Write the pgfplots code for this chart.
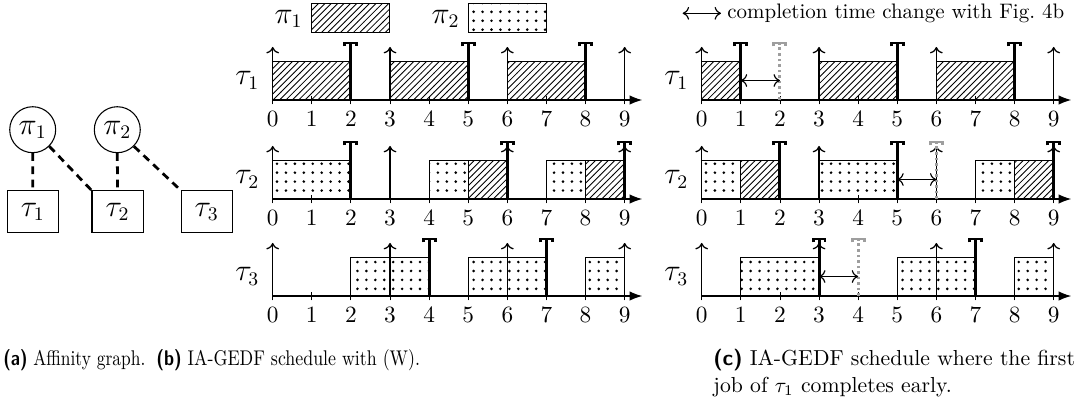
\documentclass[border=0pt]{standalone}
\usepackage{pgfplots}
\pgfplotsset{compat=1.18}
\usetikzlibrary{arrows.meta,patterns,patterns.meta}
\definecolor{oldgray}{gray}{0.62}
\newcommand{\lab}{\fontsize{13.5}{15}\selectfont}

\pgfplotsset{
  sched/.style={
    x=18.38pt, y=18.33pt,
    xmin=0, xmax=9.45, ymin=0, ymax=1.5,
    anchor=south west,
    axis x line=bottom,
    axis y line=none,
    x axis line style={line width=0.6pt,-{Latex[length=6pt,width=4.5pt]}},
    xtick={0,...,9},
    ytick=\empty,
    xtick align=center,
    major tick length=4pt,
    every tick/.style={black, line width=0.4pt},
    tick label style={font=\fontsize{11}{13}\selectfont},
    clip=false,
  },
  hbar/.style={draw=black, line width=0.45pt, pattern=north east lines},
  dbar/.style={draw=black, line width=0.45pt, pattern={Dots[distance=4.2pt,radius=0.68pt]}},
  rel/.style={line width=0.6pt, -{To[length=3pt,width=6pt]}},
  comp/.style={line width=1.4pt, -{Bracket[width=7pt,length=1.6pt]}},
  oldcomp/.style={oldgray, line width=1.4pt, dash pattern=on 1.3pt off 1.3pt, -{Bracket[width=7pt,length=1.6pt]}},
  chg/.style={line width=0.55pt, {To[length=3pt,width=6pt]}-{To[length=3pt,width=6pt]}},
}

\begin{document}
\begin{tikzpicture}
\useasboundingbox[x=0.47pt,y=-0.47pt] (0,0) rectangle (1086,405);

% ---------------- panel (b) ----------------
% tau_1
\begin{axis}[sched, at={(272.7*0.47pt,-100*0.47pt)}]
\addplot[hbar] coordinates {(0,0)(0,1)(2,1)(2,0)} --cycle;
\addplot[hbar] coordinates {(3,0)(3,1)(5,1)(5,0)} --cycle;
\addplot[hbar] coordinates {(6,0)(6,1)(8,1)(8,0)} --cycle;
\addplot[rel] coordinates {(0,0)(0,1.36)};
\addplot[rel] coordinates {(3,0)(3,1.36)};
\addplot[rel] coordinates {(6,0)(6,1.36)};
\addplot[rel] coordinates {(9,0)(9,1.36)};
\addplot[comp] coordinates {(2,0)(2,1.5)};
\addplot[comp] coordinates {(5,0)(5,1.5)};
\addplot[comp] coordinates {(8,0)(8,1.5)};
\node[anchor=east, font=\lab, inner sep=0pt] at (axis cs:-0.33,0.5) {$\tau_1$};
\end{axis}
% tau_2
\begin{axis}[sched, at={(272.7*0.47pt,-199*0.47pt)}]
\addplot[dbar] coordinates {(0,0)(0,1)(2,1)(2,0)} --cycle;
\addplot[dbar] coordinates {(4,0)(4,1)(5,1)(5,0)} --cycle;
\addplot[hbar] coordinates {(5,0)(5,1)(6,1)(6,0)} --cycle;
\addplot[dbar] coordinates {(7,0)(7,1)(8,1)(8,0)} --cycle;
\addplot[hbar] coordinates {(8,0)(8,1)(9,1)(9,0)} --cycle;
\addplot[rel] coordinates {(0,0)(0,1.36)};
\addplot[rel] coordinates {(3,0)(3,1.36)};
\addplot[rel] coordinates {(6,0)(6,1.36)};
\addplot[rel] coordinates {(9,0)(9,1.36)};
\addplot[comp] coordinates {(2,0)(2,1.5)};
\addplot[comp] coordinates {(6,0)(6,1.5)};
\addplot[comp] coordinates {(9,0)(9,1.5)};
\node[anchor=east, font=\lab, inner sep=0pt] at (axis cs:-0.33,0.5) {$\tau_2$};
\end{axis}
% tau_3
\begin{axis}[sched, at={(272.7*0.47pt,-296*0.47pt)}]
\addplot[dbar] coordinates {(2,0)(2,1)(4,1)(4,0)} --cycle;
\addplot[dbar] coordinates {(5,0)(5,1)(7,1)(7,0)} --cycle;
\addplot[dbar] coordinates {(8,0)(8,1)(9,1)(9,0)} --cycle;
\addplot[rel] coordinates {(0,0)(0,1.36)};
\addplot[rel] coordinates {(3,0)(3,1.36)};
\addplot[rel] coordinates {(6,0)(6,1.36)};
\addplot[rel] coordinates {(9,0)(9,1.36)};
\addplot[comp] coordinates {(4,0)(4,1.5)};
\addplot[comp] coordinates {(7,0)(7,1.5)};
\node[anchor=east, font=\lab, inner sep=0pt] at (axis cs:-0.33,0.5) {$\tau_3$};
\end{axis}

% ---------------- panel (c) ----------------
% tau_1
\begin{axis}[sched, at={(701.7*0.47pt,-100*0.47pt)}]
\addplot[hbar] coordinates {(0,0)(0,1)(1,1)(1,0)} --cycle;
\addplot[hbar] coordinates {(3,0)(3,1)(5,1)(5,0)} --cycle;
\addplot[hbar] coordinates {(6,0)(6,1)(8,1)(8,0)} --cycle;
\addplot[rel] coordinates {(0,0)(0,1.36)};
\addplot[rel] coordinates {(3,0)(3,1.36)};
\addplot[rel] coordinates {(6,0)(6,1.36)};
\addplot[rel] coordinates {(9,0)(9,1.36)};
\addplot[oldcomp] coordinates {(2,0)(2,1.5)};
\addplot[comp] coordinates {(1,0)(1,1.5)};
\addplot[comp] coordinates {(5,0)(5,1.5)};
\addplot[comp] coordinates {(8,0)(8,1.5)};
\addplot[chg] coordinates {(1,0.5)(2,0.5)};
\node[anchor=east, font=\lab, inner sep=0pt] at (axis cs:-0.33,0.5) {$\tau_1$};
\end{axis}
% tau_2
\begin{axis}[sched, at={(701.7*0.47pt,-199*0.47pt)}]
\addplot[dbar] coordinates {(0,0)(0,1)(1,1)(1,0)} --cycle;
\addplot[hbar] coordinates {(1,0)(1,1)(2,1)(2,0)} --cycle;
\addplot[dbar] coordinates {(3,0)(3,1)(5,1)(5,0)} --cycle;
\addplot[dbar] coordinates {(7,0)(7,1)(8,1)(8,0)} --cycle;
\addplot[hbar] coordinates {(8,0)(8,1)(9,1)(9,0)} --cycle;
\addplot[rel] coordinates {(0,0)(0,1.36)};
\addplot[rel] coordinates {(3,0)(3,1.36)};
\addplot[rel] coordinates {(6,0)(6,1.36)};
\addplot[rel] coordinates {(9,0)(9,1.36)};
\addplot[oldcomp] coordinates {(6,0)(6,1.5)};
\addplot[comp] coordinates {(2,0)(2,1.5)};
\addplot[comp] coordinates {(5,0)(5,1.5)};
\addplot[comp] coordinates {(9,0)(9,1.5)};
\addplot[chg] coordinates {(5,0.5)(6,0.5)};
\node[anchor=east, font=\lab, inner sep=0pt] at (axis cs:-0.33,0.5) {$\tau_2$};
\end{axis}
% tau_3
\begin{axis}[sched, at={(701.7*0.47pt,-296*0.47pt)}]
\addplot[dbar] coordinates {(1,0)(1,1)(3,1)(3,0)} --cycle;
\addplot[dbar] coordinates {(5,0)(5,1)(7,1)(7,0)} --cycle;
\addplot[dbar] coordinates {(8,0)(8,1)(9,1)(9,0)} --cycle;
\addplot[rel] coordinates {(0,0)(0,1.36)};
\addplot[rel] coordinates {(3,0)(3,1.36)};
\addplot[rel] coordinates {(6,0)(6,1.36)};
\addplot[rel] coordinates {(9,0)(9,1.36)};
\addplot[oldcomp] coordinates {(4,0)(4,1.5)};
\addplot[comp] coordinates {(3,0)(3,1.5)};
\addplot[comp] coordinates {(7,0)(7,1.5)};
\addplot[chg] coordinates {(3,0.5)(4,0.5)};
\node[anchor=east, font=\lab, inner sep=0pt] at (axis cs:-0.33,0.5) {$\tau_3$};
\end{axis}

\begin{scope}[x=0.47pt,y=-0.47pt]
% legend of (b)
\node[font=\lab, anchor=east, inner sep=0pt] at (303,19) {$\pi_1$};
\draw[line width=0.45pt, pattern=north east lines] (311.7,3.3) rectangle (389.3,32.7);
\node[font=\lab, anchor=east, inner sep=0pt] at (460,19) {$\pi_2$};
\draw[line width=0.45pt, pattern={Dots[distance=4.2pt,radius=0.68pt]}] (468.3,3.3) rectangle (546,32.7);
% legend of (c)
\draw[line width=0.55pt, {To[length=3pt,width=6pt]}-{To[length=3pt,width=6pt]}] (682.7,13.3) -- (721,13.3);
\node[anchor=west, inner sep=0pt, font=\fontsize{9.85}{12}\selectfont] at (727,13.3) {completion time change with Fig.~4b};

% affinity graph (a)
\tikzset{pnode/.style={circle, draw, line width=0.5pt, minimum size=21.6pt, inner sep=0pt, font=\lab},
         tnode/.style={rectangle, draw, line width=0.5pt, minimum width=24pt, minimum height=19.7pt, inner sep=0pt, font=\lab},
         aff/.style={line width=1.3pt, dash pattern=on 3.6pt off 2.6pt}}
\node[pnode] (p1) at (32.7,129.7) {$\pi_1$};
\node[pnode] (p2) at (117.3,129.7) {$\pi_2$};
\node[tnode] (t1) at (32.8,211.7) {$\tau_1$};
\node[tnode] (t2) at (117.5,211.7) {$\tau_2$};
\node[tnode] (t3) at (206.7,211.7) {$\tau_3$};
\draw[aff] (p1.south) -- (t1.north);
\draw[aff] (p1.south east) -- (t2.north west);
\draw[aff] (p2.south) -- (t2.north);
\draw[aff] (p2.south east) -- (t3.north west);

% captions
\node[anchor=base west, inner sep=0pt] at (3,365.5) {\scalebox{0.82}[1]{\textsf{\bfseries (a)} Affinity graph.}};
\node[anchor=base west, inner sep=0pt] at (156,365.5) {\scalebox{0.84}[1]{\textsf{\bfseries (b)} IA-GEDF schedule with (W).}};
\node[anchor=base west, inner sep=0pt, font=\fontsize{10.2}{12}\selectfont] at (713,365.5) {\textsf{\bfseries (c)} IA-GEDF schedule where the first};
\node[anchor=base west, inner sep=0pt, font=\fontsize{10.2}{12}\selectfont] at (713,392.7) {job of $\tau_1$ completes early.};
\end{scope}
\end{tikzpicture}
\end{document}
